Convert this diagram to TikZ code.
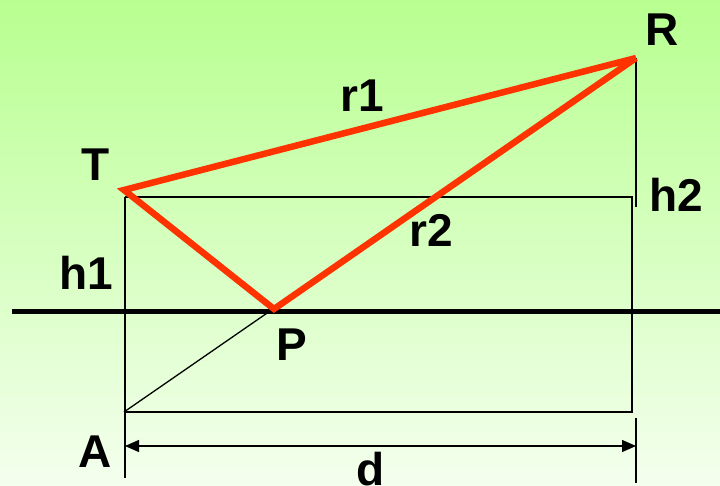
\documentclass[tikz,border=0pt]{standalone}
\usepackage{fontspec}
\setmainfont{Liberation Sans}
\usetikzlibrary{arrows.meta}
\definecolor{bgtop}{RGB}{184,255,144}
\definecolor{bgbot}{RGB}{244,255,238}
\definecolor{rayred}{RGB}{255,51,0}
\begin{document}
\begin{tikzpicture}[x=1pt,y=-1pt,
  thinline/.style={line width=1.3pt, draw=black},
  groundline/.style={line width=5pt, draw=black},
  rayline/.style={line width=6.5pt, draw=rayred, line join=miter},
  lbl/.style={font=\fontsize{46}{46}\bfseries\selectfont, inner sep=0pt, text=black}]
\useasboundingbox (0,0) rectangle (720,486);
\clip (0,0) rectangle (720,486);
\shade[top color=bgtop, bottom color=bgbot] (0,0) rectangle (720,486);
% points
\coordinate (T) at (124,190);
\coordinate (R) at (636,58);
\coordinate (P) at (274,309);
\coordinate (A) at (124,412);
\coordinate (RT) at (632,197);
\coordinate (LT) at (125,197);
\coordinate (RB) at (632,412);
\coordinate (Lbot) at (125,478);
\coordinate (Rv) at (636,207);
\coordinate (Tk1) at (636,418);
\coordinate (Tk2) at (636,483);
\coordinate (D1) at (125,446);
\coordinate (D2) at (636,446);
\coordinate (G1) at (12,311);
\coordinate (G2) at (720,311);
% thin lines
\draw[thinline] (LT) -- (RT) -- (RB) -- (A);
\draw[thinline] (LT) -- (Lbot);
\draw[thinline] (R) -- (Rv);
\draw[thinline] (Tk1) -- (Tk2);
\draw[thinline] (A) -- (R);
\draw[thinline, {Triangle[length=14pt,width=12pt]}-{Triangle[length=14pt,width=12pt]}] (D1) -- (D2);
% ground
\draw[groundline] (G1) -- (G2);
% rays
\draw[rayline] (R) -- (T) -- (P) -- (R);
% labels
\node[lbl] (lR) at (662,30) {R};
\node[lbl] (lT) at (96,165) {T};
\node[lbl] (lr1) at (362,96) {r1};
\node[lbl] (lh2) at (676,195) {h2};
\node[lbl] (lr2) at (431,230) {r2};
\node[lbl] (lh1) at (86,273) {h1};
\node[lbl] (lP) at (292,345) {P};
\node[lbl] (lA) at (95,452) {A};
\node[lbl, anchor=north] (ld) at (371,452) {d};
\end{tikzpicture}
\end{document}
